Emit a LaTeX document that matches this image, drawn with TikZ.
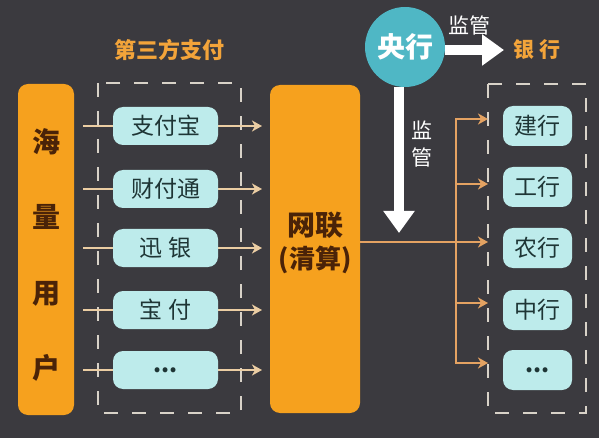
\documentclass[tikz,border=0pt]{standalone}
\usepackage{fontspec}
\setmainfont{Noto Sans CJK SC}
\usetikzlibrary{arrows.meta}
\definecolor{bg}{HTML}{3B3A3F}
\definecolor{orangebox}{HTML}{F6A11E}
\definecolor{browntext}{HTML}{4A2308}
\definecolor{pillfill}{HTML}{BDEBEB}
\definecolor{pilltext}{HTML}{1E3535}
\definecolor{circlefill}{HTML}{4FB7C5}
\definecolor{lefttan}{HTML}{EBCDA3}
\definecolor{righttan}{HTML}{E4A262}
\definecolor{dashcol}{HTML}{D8D2C8}
\definecolor{titleorange}{HTML}{F3A43A}
\newcommand{\pilldots}{\textbf{...}}
\tikzset{
  tallbox/.style={fill=orangebox, rounded corners=10pt, inner sep=0pt},
  boxtext/.style={text=browntext, font=\bfseries\fontsize{28}{30}\selectfont, inner sep=0pt},
  pill/.style={fill=pillfill, rounded corners=10pt, text=pilltext, font=\fontsize{23}{25}\selectfont, inner sep=0pt},
  lpill/.style={pill, minimum width=105pt, minimum height=38pt},
  bpill/.style={pill, minimum width=69pt, minimum height=40pt},
  dashbox/.style={draw=dashcol, line width=1.4pt, dash pattern=on 14pt off 14pt},
  larrow/.style={draw=lefttan, line width=2pt, -{Stealth[length=10pt,width=11pt,inset=3pt]}},
  rline/.style={draw=righttan, line width=2.2pt},
  rarrow/.style={draw=righttan, line width=2.2pt, -{Stealth[length=10pt,width=11pt,inset=3pt]}},
  bigarrow/.style={draw=white, line width=10pt, -{Triangle[length=22pt,width=30pt]}},
  wlabel/.style={text=white, font=\fontsize{21}{23}\selectfont, inner sep=0pt},
}
\begin{document}
\begin{tikzpicture}[x=1pt,y=-1pt]
\fill[bg] (0,0) rectangle (599,438);
\useasboundingbox (0,0) rectangle (599,438);

% title
\node[text=titleorange, font=\bfseries\fontsize{22}{24}\selectfont, inner sep=0pt] (title) at (169,50) {第三方支付};

% dashed groups
\draw[dashbox] (98,83) rectangle (241,413);
\draw[dashbox] (488,84) rectangle (586,413);

% users box
\node[tallbox, minimum width=56pt, minimum height=331pt] (users) at (46,249.5) {};
\node[boxtext] (u1) at (46,142) {海};
\node[boxtext] (u2) at (46,217) {量};
\node[boxtext] (u3) at (46,294) {用};
\node[boxtext] (u4) at (46,368) {户};

% net box
\node[tallbox, minimum width=90pt, minimum height=328pt] (net) at (315,249) {};
\node[boxtext] (n1) at (315,225) {网联};
\node[boxtext, font=\bfseries\fontsize{26}{28}\selectfont] (n2) at (315,260) {(清算)};

% left pills and arrows
\foreach \i/\y/\t in {1/126/支付宝, 2/189/财付通, 3/248/迅\ 银, 4/310/宝\ 付, 5/370/\pilldots}{
  \coordinate (ls\i) at (83,\y);
  \coordinate (le\i) at (262,\y);
  \draw[larrow] (ls\i) -- (le\i);
  \node[lpill] (p\i) at (165.5,\y) {\t};
}

% bank pills
\foreach \i/\y/\t in {1/126/建行, 2/187/工行, 3/248/农行, 4/310/中行, 5/370/\pilldots}{
  \node[bpill] (b\i) at (537.5,\y) {\t};
}

% bus and bank arrows
\coordinate (bustop) at (456,119);
\coordinate (busbot) at (456,363);
\draw[rline] (bustop) -- (busbot);
\coordinate (busmid) at (456,242);
\draw[rline] ([yshift=7pt]net.east) -- (busmid);
\foreach \i/\y in {1/119, 2/184, 3/242, 4/303, 5/363}{
  \coordinate (bs\i) at (455,\y);
  \coordinate (be\i) at (488,\y);
  \draw[rarrow] (bs\i) -- (be\i);
}

% central bank
\node[circle, fill=circlefill, minimum size=80pt, inner sep=0pt] (cb) at (405,47) {};
\node[text=white, font=\bfseries\fontsize{28}{30}\selectfont, inner sep=0pt] (cbt) at (405,47) {央行};
\coordinate (hend) at (504,50);
\draw[bigarrow] ([yshift=-3pt]cb.east) -- (hend);
\node[text=titleorange, font=\bfseries\fontsize{21}{23}\selectfont, inner sep=0pt] (banks) at (537,50) {银\ 行};
\node[wlabel] (sup1) at (469,25) {监管};
\coordinate (vend) at (399,233);
\draw[bigarrow] ([xshift=-6pt]cb.south) -- (vend);
\node[wlabel] (sup2a) at (422,130) {监};
\node[wlabel] (sup2b) at (422,157) {管};
\end{tikzpicture}
\end{document}
